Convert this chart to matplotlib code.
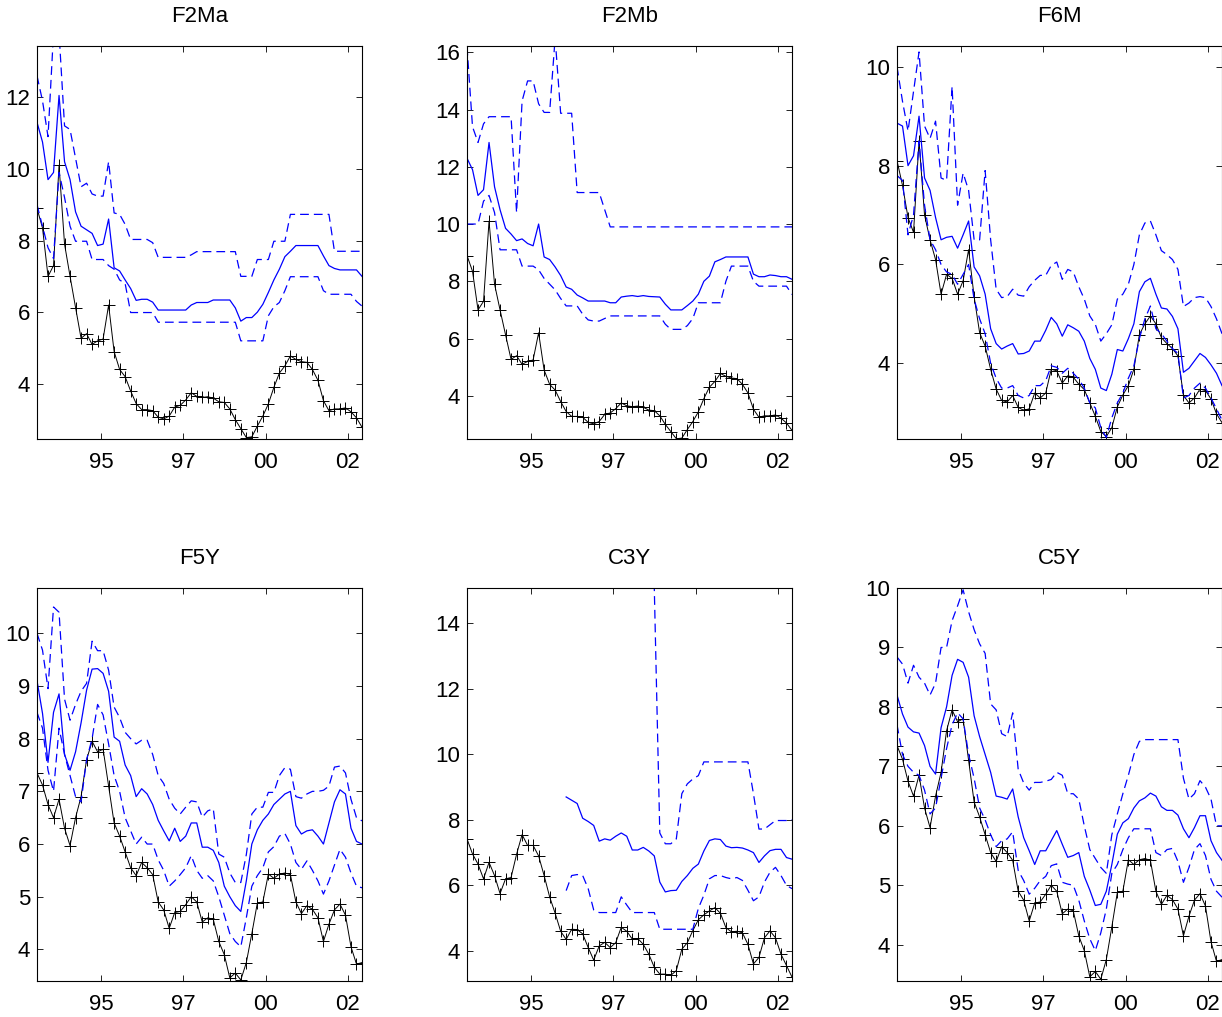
import numpy as np
import matplotlib.pyplot as plt

plt.rcParams['font.family'] = ['Liberation Sans', 'DejaVu Sans']

# monthly-ish sample dates (decimal years), one value per date in every series
dates = np.linspace(1993.05, 2002.93, 60)
year_ticks = [1995.0, 1997.5, 2000.0, 2002.5]
year_labels = ['95', '97', '00', '02']

# short rate (F2Ma, F2Mb)
black_2m = [8.9, 8.35, 7.0, 7.3, 10.1, 7.9, 7.0, 6.13, 5.27, 5.4,
            5.1, 5.2, 5.25, 6.2, 4.9, 4.4, 4.2, 3.8, 3.45, 3.28,
            3.28, 3.25, 3.07, 3.02, 3.1, 3.35, 3.4, 3.55, 3.75, 3.65,
            3.62, 3.64, 3.6, 3.5, 3.48, 3.3, 3.0, 2.75, 2.5, 2.52,
            2.82, 3.1, 3.44, 3.9, 4.3, 4.5, 4.78, 4.68, 4.62, 4.6,
            4.4, 4.1, 3.53, 3.25, 3.3, 3.3, 3.33, 3.22, 3.05, 2.79]
# 6-month rate (F6M)
black_6m = [8.1, 7.6, 6.95, 6.65, 8.5, 7.0, 6.5, 6.1, 5.4, 5.8,
            5.72, 5.4, 5.67, 6.3, 5.35, 4.62, 4.35, 3.88, 3.48, 3.25,
            3.22, 3.35, 3.11, 3.05, 3.08, 3.4, 3.3, 3.4, 3.88, 3.85,
            3.6, 3.75, 3.72, 3.58, 3.47, 3.2, 2.93, 2.62, 2.52, 2.7,
            3.12, 3.36, 3.55, 3.88, 4.58, 4.8, 4.96, 4.8, 4.52, 4.4,
            4.3, 4.15, 3.35, 3.2, 3.3, 3.48, 3.45, 3.28, 2.98, 2.8]
# 5-year yield (F5Y, C5Y)
black_5y = [7.35, 7.12, 6.75, 6.5, 6.85, 6.3, 5.97, 6.5, 6.9, 7.6,
            7.95, 7.75, 7.8, 7.1, 6.4, 6.15, 5.85, 5.55, 5.4, 5.65,
            5.55, 5.42, 4.9, 4.75, 4.4, 4.7, 4.72, 4.85, 5.0, 4.9,
            4.52, 4.6, 4.57, 4.15, 3.9, 3.46, 3.55, 3.42, 3.75, 4.3,
            4.88, 4.9, 5.43, 5.35, 5.43, 5.45, 5.42, 4.9, 4.68, 4.83,
            4.76, 4.6, 4.15, 4.48, 4.75, 4.86, 4.65, 4.05, 3.72, 3.75]
# 3-year yield (C3Y)
black_3y = [7.42, 6.96, 6.65, 6.2, 6.7, 6.3, 5.75, 6.2, 6.24, 6.95,
            7.55, 7.22, 7.22, 6.9, 6.3, 5.65, 5.15, 4.6, 4.35, 4.66,
            4.65, 4.52, 4.1, 3.72, 4.15, 4.26, 4.1, 4.25, 4.72, 4.6,
            4.36, 4.38, 4.2, 3.9, 3.5, 3.29, 3.29, 3.25, 3.4, 4.05,
            4.25, 4.62, 4.95, 5.1, 5.22, 5.32, 5.15, 4.71, 4.58, 4.6,
            4.55, 4.2, 3.6, 3.8, 4.4, 4.61, 4.4, 3.9, 3.55, 3.2]

f2ma_mid = [11.3, 10.75, 9.7, 9.9, 12.05, 10.2, 9.7, 8.8, 8.4, 8.3,
            8.2, 7.86, 7.9, 8.6, 7.24, 7.15, 6.9, 6.66, 6.33, 6.36,
            6.36, 6.28, 6.06, 6.06, 6.06, 6.06, 6.06, 6.06, 6.2, 6.27,
            6.27, 6.27, 6.34, 6.34, 6.34, 6.34, 6.12, 5.75, 5.85, 5.85,
            6.0, 6.22, 6.55, 6.9, 7.2, 7.55, 7.7, 7.86, 7.86, 7.86,
            7.86, 7.86, 7.57, 7.3, 7.22, 7.18, 7.18, 7.18, 7.18, 7.0]
f2ma_up = [12.6, 11.9, 10.9, 13.8, 13.8, 11.2, 11.1, 10.3, 9.5, 9.6,
           9.3, 9.24, 9.24, 10.2, 8.77, 8.73, 8.45, 8.03, 8.03, 8.03,
           8.03, 7.94, 7.53, 7.53, 7.53, 7.53, 7.53, 7.53, 7.6, 7.69,
           7.69, 7.69, 7.69, 7.69, 7.69, 7.69, 7.69, 7.0, 7.0, 7.0,
           7.47, 7.47, 7.47, 7.98, 7.98, 7.98, 8.73, 8.73, 8.73, 8.73,
           8.73, 8.73, 8.73, 8.73, 7.7, 7.7, 7.7, 7.7, 7.7, 7.7]
f2ma_lo = [9.0, 8.4, 7.8, 7.5, 9.9, 9.2, 8.4, 7.98, 7.98, 7.98,
           7.47, 7.47, 7.47, 7.3, 7.2, 6.9, 6.8, 5.99, 5.99, 5.99,
           5.99, 5.99, 5.72, 5.72, 5.72, 5.72, 5.72, 5.72, 5.72, 5.72,
           5.72, 5.72, 5.72, 5.72, 5.72, 5.72, 5.72, 5.2, 5.2, 5.2,
           5.2, 5.2, 5.9, 6.15, 6.27, 6.6, 6.99, 6.99, 6.99, 6.99,
           6.99, 6.99, 6.6, 6.5, 6.5, 6.5, 6.5, 6.5, 6.3, 6.17]

f2mb_mid = [12.3, 11.9, 11.0, 11.2, 12.85, 11.3, 10.5, 9.85, 9.65, 9.42,
            9.48, 9.32, 9.24, 10.0, 8.85, 8.76, 8.5, 8.2, 7.8, 7.72,
            7.52, 7.42, 7.31, 7.31, 7.31, 7.31, 7.25, 7.25, 7.45, 7.48,
            7.5, 7.47, 7.5, 7.47, 7.46, 7.45, 7.2, 7.0, 7.0, 7.0,
            7.15, 7.31, 7.55, 8.0, 8.18, 8.68, 8.76, 8.85, 8.85, 8.85,
            8.85, 8.85, 8.25, 8.16, 8.16, 8.22, 8.2, 8.16, 8.16, 8.07]
f2mb_up = [16.2, 13.4, 12.85, 13.5, 13.75, 13.75, 13.75, 13.75, 13.75, 10.4,
           14.3, 15.0, 15.0, 14.2, 13.9, 13.9, 16.5, 13.87, 13.87, 13.87,
           11.1, 11.1, 11.1, 11.1, 11.1, 10.5, 9.9, 9.9, 9.9, 9.9,
           9.9, 9.9, 9.9, 9.9, 9.9, 9.9, 9.9, 9.9, 9.9, 9.9,
           9.9, 9.9, 9.9, 9.9, 9.9, 9.9, 9.9, 9.9, 9.9, 9.9,
           9.9, 9.9, 9.9, 9.9, 9.9, 9.9, 9.9, 9.9, 9.9, 9.9]
f2mb_lo = [10.0, 10.0, 10.0, 10.8, 11.0, 10.4, 9.1, 9.1, 9.1, 9.1,
           8.53, 8.53, 8.53, 8.4, 8.1, 7.9, 7.7, 7.4, 7.14, 7.14,
           7.14, 6.85, 6.65, 6.61, 6.61, 6.7, 6.79, 6.79, 6.79, 6.79,
           6.79, 6.79, 6.79, 6.79, 6.79, 6.79, 6.5, 6.32, 6.32, 6.32,
           6.45, 6.7, 7.25, 7.25, 7.25, 7.25, 7.25, 8.0, 8.53, 8.53,
           8.53, 8.53, 8.0, 7.83, 7.83, 7.83, 7.83, 7.83, 7.83, 7.54]

f6m_mid = [8.86, 8.8, 8.0, 8.2, 9.0, 7.75, 7.5, 6.95, 6.5, 6.55,
           6.57, 6.33, 6.6, 6.88, 5.95, 5.77, 5.4, 4.7, 4.4, 4.29,
           4.35, 4.4, 4.19, 4.2, 4.25, 4.45, 4.45, 4.67, 4.93, 4.8,
           4.55, 4.78, 4.72, 4.65, 4.45, 4.1, 3.88, 3.5, 3.45, 3.78,
           4.28, 4.25, 4.5, 4.8, 5.45, 5.65, 5.72, 5.4, 5.12, 5.1,
           4.95, 4.7, 3.82, 3.9, 4.05, 4.2, 4.12, 3.97, 3.8, 3.55]
f6m_up = [10.0, 9.3, 8.7, 9.5, 10.3, 8.8, 8.55, 8.9, 7.75, 7.7,
          9.6, 7.2, 7.85, 7.5, 6.5, 6.5, 7.9, 6.5, 5.5, 5.33,
          5.35, 5.5, 5.38, 5.36, 5.55, 5.68, 5.78, 5.78, 5.98, 6.05,
          5.7, 5.9, 5.85, 5.55, 5.3, 4.96, 4.79, 4.45, 4.6, 4.78,
          5.3, 5.4, 5.6, 6.0, 6.6, 6.84, 6.88, 6.6, 6.28, 6.2,
          6.1, 5.9, 5.15, 5.22, 5.33, 5.35, 5.33, 5.15, 4.9, 4.6]
f6m_lo = [7.8, 7.7, 6.6, 7.0, 8.5, 7.2, 6.5, 6.3, 6.0, 5.85,
          5.8, 5.6, 5.8, 6.0, 5.3, 4.9, 4.6, 4.0, 3.7, 3.5,
          3.5, 3.55, 3.35, 3.3, 3.35, 3.55, 3.55, 3.65, 3.95, 3.92,
          3.8, 3.9, 3.8, 3.68, 3.5, 3.2, 3.1, 2.7, 2.5, 2.9,
          3.2, 3.4, 3.7, 3.95, 4.5, 4.9, 5.16, 4.7, 4.6, 4.45,
          4.3, 4.2, 3.3, 3.35, 3.5, 3.6, 3.5, 3.3, 3.08, 2.85]

f5y_mid = [9.1, 8.48, 7.55, 8.5, 8.85, 7.7, 7.4, 7.75, 8.3, 8.92,
           9.32, 9.33, 9.24, 8.9, 8.03, 7.95, 7.5, 7.3, 6.9, 7.05,
           6.95, 6.75, 6.45, 6.25, 6.06, 6.3, 6.05, 6.15, 6.4, 6.4,
           5.94, 5.94, 5.88, 5.65, 5.2, 5.0, 4.83, 4.72, 5.3, 6.0,
           6.27, 6.45, 6.57, 6.75, 6.85, 6.95, 7.0, 6.35, 6.19, 6.25,
           6.27, 6.15, 6.0, 6.4, 6.8, 7.03, 6.95, 6.3, 6.05, 6.0]
f5y_up = [10.0, 9.68, 8.95, 10.5, 10.4, 8.75, 8.35, 8.65, 8.9, 9.05,
          9.85, 9.67, 9.67, 9.3, 8.6, 8.4, 8.12, 8.0, 7.9, 7.97,
          7.97, 7.7, 7.3, 7.15, 6.85, 6.68, 6.57, 6.7, 6.82, 6.8,
          6.51, 6.63, 6.67, 5.81, 5.75, 5.45, 5.27, 5.27, 5.8, 6.57,
          6.7, 6.7, 6.98, 6.98, 7.3, 7.45, 7.42, 6.9, 6.87, 6.95,
          7.0, 7.0, 7.02, 7.1, 7.46, 7.48, 7.35, 6.85, 6.5, 6.44]
f5y_lo = [8.5, 8.2, 7.4, 7.0, 8.2, 7.7, 7.3, 6.9, 6.8, 7.6,
          8.0, 8.65, 8.45, 7.9, 7.3, 7.0, 6.5, 6.25, 6.0, 6.13,
          6.0, 6.0, 5.7, 5.5, 5.2, 5.3, 5.42, 5.55, 5.78, 5.5,
          5.35, 5.4, 5.3, 5.0, 4.65, 4.3, 4.15, 4.05, 4.6, 5.2,
          5.4, 5.55, 5.85, 5.95, 6.15, 6.2, 6.0, 5.65, 5.52, 5.68,
          5.5, 5.3, 5.05, 5.3, 5.6, 5.9, 5.75, 5.45, 5.2, 5.17]

nan = np.nan
c3y_mid = [nan] * 18 + [
    8.7, 8.6, 8.5, 8.05, 7.95, 7.83, 7.35, 7.42, 7.38, 7.5,
    7.6, 7.5, 7.08, 7.08, 7.16, 7.05, 6.9, 6.1, 5.8, 5.84,
    5.85, 6.12, 6.3, 6.52, 6.65, 7.05, 7.37, 7.42, 7.4, 7.2,
    7.15, 7.16, 7.14, 7.08, 7.0, 6.7, 6.9, 7.06, 7.1, 7.1,
    6.85, 6.8]
c3y_up = [nan] * 18 + [
    15.08, 15.08, 15.08, 15.08, 15.08, 15.08, 15.08, 15.08, 15.08, 15.08,
    15.08, 15.08, 15.08, 15.08, 15.08, 15.08, 15.08, 7.6, 7.27, 7.27,
    7.42, 8.8, 9.1, 9.25, 9.35, 9.77, 9.77, 9.77, 9.77, 9.77,
    9.77, 9.77, 9.77, 9.77, 8.8, 7.72, 7.72, 7.85, 7.98, 7.98,
    7.98, 8.0]
c3y_lo = [nan] * 18 + [
    5.84, 6.3, 6.33, 6.3, 5.9, 5.25, 5.17, 5.17, 5.17, 5.17,
    5.65, 5.4, 5.17, 5.17, 5.17, 5.17, 5.17, 4.66, 4.66, 4.66,
    4.66, 4.66, 4.66, 4.66, 5.3, 5.7, 6.2, 6.3, 6.3, 6.24,
    6.2, 6.24, 6.15, 5.85, 5.53, 5.65, 6.1, 6.4, 6.55, 6.3,
    6.0, 5.9]

c5y_mid = [8.2, 7.88, 7.66, 7.58, 7.56, 7.35, 7.0, 6.87, 7.65, 8.0,
           8.53, 8.8, 8.75, 8.5, 7.85, 7.5, 7.2, 6.9, 6.5, 6.48,
           6.45, 6.62, 6.15, 5.8, 5.58, 5.35, 5.58, 5.58, 5.75, 5.92,
           5.69, 5.47, 5.5, 5.55, 5.15, 4.92, 4.66, 4.68, 4.9, 5.35,
           5.86, 6.05, 6.12, 6.3, 6.42, 6.47, 6.55, 6.5, 6.32, 6.26,
           6.26, 6.18, 5.95, 5.8, 5.97, 6.17, 6.17, 5.75, 5.55, 5.42]
c5y_up = [8.84, 8.72, 8.4, 8.7, 8.5, 8.4, 8.2, 8.4, 9.0, 9.0,
          9.45, 9.7, 9.97, 9.6, 9.3, 9.06, 8.9, 8.05, 7.95, 7.55,
          7.5, 7.9, 6.95, 6.72, 6.6, 6.73, 6.73, 6.75, 6.78, 6.9,
          6.85, 6.54, 6.54, 6.45, 6.0, 5.6, 5.45, 5.3, 5.2, 5.85,
          6.2, 6.54, 6.85, 7.2, 7.42, 7.45, 7.45, 7.45, 7.45, 7.45,
          7.45, 7.45, 6.8, 6.45, 6.54, 6.76, 6.65, 6.45, 6.0, 6.0]
c5y_lo = [7.7, 7.2, 7.0, 6.9, 6.85, 6.6, 6.2, 6.3, 6.8, 7.3,
          7.7, 7.9, 7.8, 7.2, 6.8, 6.3, 6.1, 5.85, 5.65, 5.75,
          5.78, 5.9, 5.25, 5.08, 4.85, 4.95, 5.08, 5.15, 5.33, 5.36,
          5.05, 5.02, 5.0, 4.75, 4.4, 4.1, 3.9, 4.2, 4.6, 5.2,
          5.35, 5.6, 5.8, 5.95, 5.95, 5.95, 5.95, 5.55, 5.5, 5.6,
          5.62, 5.4, 5.05, 5.3, 5.6, 5.7, 5.5, 5.1, 4.9, 4.8]

titles = ['F2Ma', 'F2Mb', 'F6M', 'F5Y', 'C3Y', 'C5Y']
blacks = [black_2m, black_2m, black_6m, black_5y, black_3y, black_5y]
mids = [f2ma_mid, f2mb_mid, f6m_mid, f5y_mid, c3y_mid, c5y_mid]
ups = [f2ma_up, f2mb_up, f6m_up, f5y_up, c3y_up, c5y_up]
los = [f2ma_lo, f2mb_lo, f6m_lo, f5y_lo, c3y_lo, c5y_lo]
ylims = [(2.46, 13.43), (2.49, 16.22), (2.47, 10.42),
         (3.40, 10.86), (3.08, 15.08), (3.39, 10.0)]
yticks = [[4, 6, 8, 10, 12], [4, 6, 8, 10, 12, 14, 16], [4, 6, 8, 10],
          [4, 5, 6, 7, 8, 9, 10], [4, 6, 8, 10, 12, 14], [4, 5, 6, 7, 8, 9, 10]]

W, H = 1222, 1017
fig = plt.figure(figsize=(W / 100, H / 100), dpi=100)
lefts = [37, 467, 897]
tops = [46, 588]
aw, ah = 325, 393

for k in range(6):
    r, c = divmod(k, 3)
    ax = fig.add_axes([lefts[c] / W, 1 - (tops[r] + ah) / H, aw / W, ah / H])
    ax.plot(dates, blacks[k], color='k', lw=0.7, marker='+', ms=8, mew=0.7)
    ax.plot(dates, mids[k], color='b', lw=0.9)
    ax.plot(dates, ups[k], color='b', lw=0.9, ls=(0, (7, 4)))
    ax.plot(dates, los[k], color='b', lw=0.9, ls=(0, (7, 4)))
    ax.set_xlim(dates[0], dates[-1])
    ax.set_ylim(*ylims[k])
    ax.set_xticks(year_ticks)
    ax.set_xticklabels(year_labels)
    ax.set_yticks(yticks[k])
    ax.tick_params(direction='in', top=True, right=True, length=4, width=0.6,
                   labelsize=16)
    ax.tick_params(axis='x', pad=9)
    ax.tick_params(axis='y', pad=5)
    for s in ax.spines.values():
        s.set_linewidth(0.8)
    ax.set_title(titles[k], fontsize=16, pad=17)

fig.savefig('out.png', dpi=100)
